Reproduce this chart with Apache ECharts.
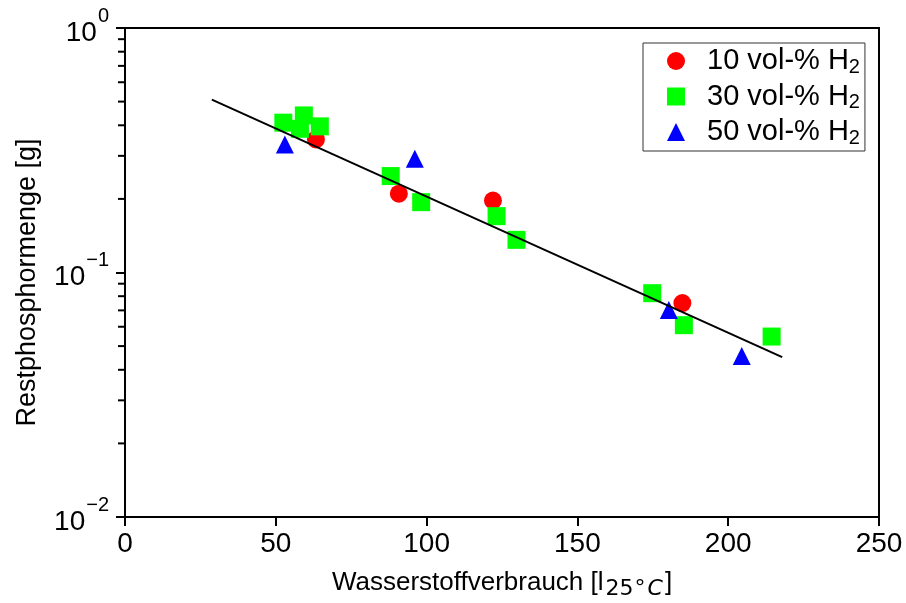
<!DOCTYPE html>
<html>
<head>
<meta charset="utf-8">
<script src="https://cdn.jsdelivr.net/npm/echarts@6/dist/echarts.min.js"></script>
<style>
html,body{margin:0;padding:0;background:#fff;}
#chart{width:906px;height:603px;}
</style>
</head>
<body>
<div id="chart"></div>
<script>
// Data
const seriesNames = ['10 vol-% H2', '30 vol-% H2', '50 vol-% H2'];
const h2_10 = [[63.3, 0.350], [90.8, 0.210], [122.0, 0.197], [184.8, 0.075]];
const h2_30 = [[52.5, 0.410], [58.0, 0.387], [59.3, 0.439], [64.6, 0.396], [88.1, 0.248], [98.2, 0.194], [123.2, 0.170], [129.8, 0.136], [174.8, 0.0823], [185.3, 0.0609], [214.4, 0.0547]];
const h2_50 = [[53.0, 0.334], [96.1, 0.292], [180.3, 0.0703], [204.5, 0.0456]];
const fitLine = [[28.8, 0.509], [217.9, 0.0451]];
const xTicks = [0, 50, 100, 150, 200, 250];
const yMinorTicks = [0.02, 0.03, 0.04, 0.05, 0.06, 0.07, 0.08, 0.09, 0.2, 0.3, 0.4, 0.5, 0.6, 0.7, 0.8, 0.9];

const FONT = "'Liberation Sans', Arial, sans-serif";
const DJ = "'DejaVu Sans', sans-serif";
const chart = echarts.init(document.getElementById('chart'), null, {renderer: 'canvas'});

const option = {
  animation: false,
  backgroundColor: '#fff',
  textStyle: {fontFamily: FONT, color: '#000'},
  grid: {left: 125, right: 27, top: 28, bottom: 86, show: true, borderColor: '#000', borderWidth: 2, containLabel: false, outerBoundsMode: 'none'},
  legend: {
    data: seriesNames,
    orient: 'vertical',
    left: 643, top: 43,
    padding: [2, 5, 3, 24],
    itemGap: 3.5,
    itemWidth: 18, itemHeight: 18,
    borderColor: '#333', borderWidth: 1,
    backgroundColor: '#fff',
    selectedMode: false,
    formatter: function (name) { return '{a|' + name.slice(0, -1) + '}{s|' + name.slice(-1) + '}'; },
    textStyle: {
      fontFamily: FONT, color: '#000',
      rich: {
        a: {fontFamily: FONT, fontSize: 29, color: '#000', lineHeight: 30, padding: [0, 0, 0, 17]},
        s: {fontFamily: FONT, fontSize: 20, color: '#000', lineHeight: 30, padding: [12, 0, 0, 0]}
      }
    }
  },
  xAxis: {
    type: 'value', min: xTicks[0], max: xTicks[xTicks.length - 1], interval: 50,
    name: '{a|Wasserstoffverbrauch [l}{s|25}{d|°}{c|C}{a|]}',
    nameLocation: 'middle', nameGap: 50,
    nameTextStyle: {
      rich: {
        a: {fontFamily: FONT, fontSize: 26, color: '#000', lineHeight: 32},
        s: {fontFamily: DJ, fontSize: 22, color: '#000', lineHeight: 32, padding: [12, 0, 0, 2]},
        d: {fontFamily: DJ, fontSize: 22, color: '#000', lineHeight: 32, padding: [12, 2, 0, 1]},
        c: {fontFamily: DJ, fontStyle: 'italic', fontSize: 22, color: '#000', lineHeight: 32, padding: [12, 2, 0, 0]}
      }
    },
    axisLine: {show: true, lineStyle: {color: '#000', width: 2}},
    axisTick: {show: true, inside: false, length: 9, lineStyle: {color: '#000', width: 2}},
    axisLabel: {fontFamily: FONT, fontSize: 28, color: '#000', margin: 13},
    splitLine: {show: false}
  },
  yAxis: {
    type: 'log', min: 0.01, max: 1, logBase: 10,
    name: 'Restphosphormenge [g]',
    nameLocation: 'middle', nameGap: 84, nameRotate: 90,
    nameTextStyle: {fontFamily: FONT, fontSize: 27, color: '#000', padding: [0, 20, 0, 0]},
    axisLine: {show: true, lineStyle: {color: '#000', width: 2}},
    axisTick: {show: true, inside: false, length: 9, lineStyle: {color: '#000', width: 2}},
    axisLabel: {
      margin: 16,
      formatter: function (v) {
        const e = Math.round(Math.log10(v));
        return '{b|10}{s|' + (e < 0 ? '\u2212' + (-e) : e) + '}';
      },
      rich: {
        b: {fontFamily: FONT, fontSize: 28, color: '#000', lineHeight: 30, padding: [10, 0, 0, 0]},
        s: {fontFamily: FONT, fontSize: 20, color: '#000', lineHeight: 30, padding: [0, 0, 24, 1]}
      }
    },
    splitLine: {show: false}
  },
  series: [
    {name: seriesNames[0], type: 'scatter', data: h2_10, symbol: 'circle', symbolSize: 18, itemStyle: {color: '#ff0000', opacity: 1}, z: 3},
    {name: seriesNames[1], type: 'scatter', data: h2_30, symbol: 'rect', symbolSize: 18, itemStyle: {color: '#00ff00', opacity: 1}, z: 4},
    {name: seriesNames[2], type: 'scatter', data: h2_50, symbol: 'triangle', symbolSize: 18, itemStyle: {color: '#0000ff', opacity: 1}, z: 5},
    {name: 'fit', type: 'line', data: fitLine, showSymbol: false, symbol: 'none', lineStyle: {color: '#000', width: 2}, z: 6, silent: true},
    {
      name: 'minorTicks', type: 'scatter', silent: true, clip: false, z: 7,
      data: yMinorTicks.map(v => [xTicks[0], v]),
      symbol: 'rect', symbolSize: [6, 2], symbolOffset: [-4, 0],
      itemStyle: {color: '#000', opacity: 1}
    }
  ]
};
chart.setOption(option);
</script>
</body>
</html>
